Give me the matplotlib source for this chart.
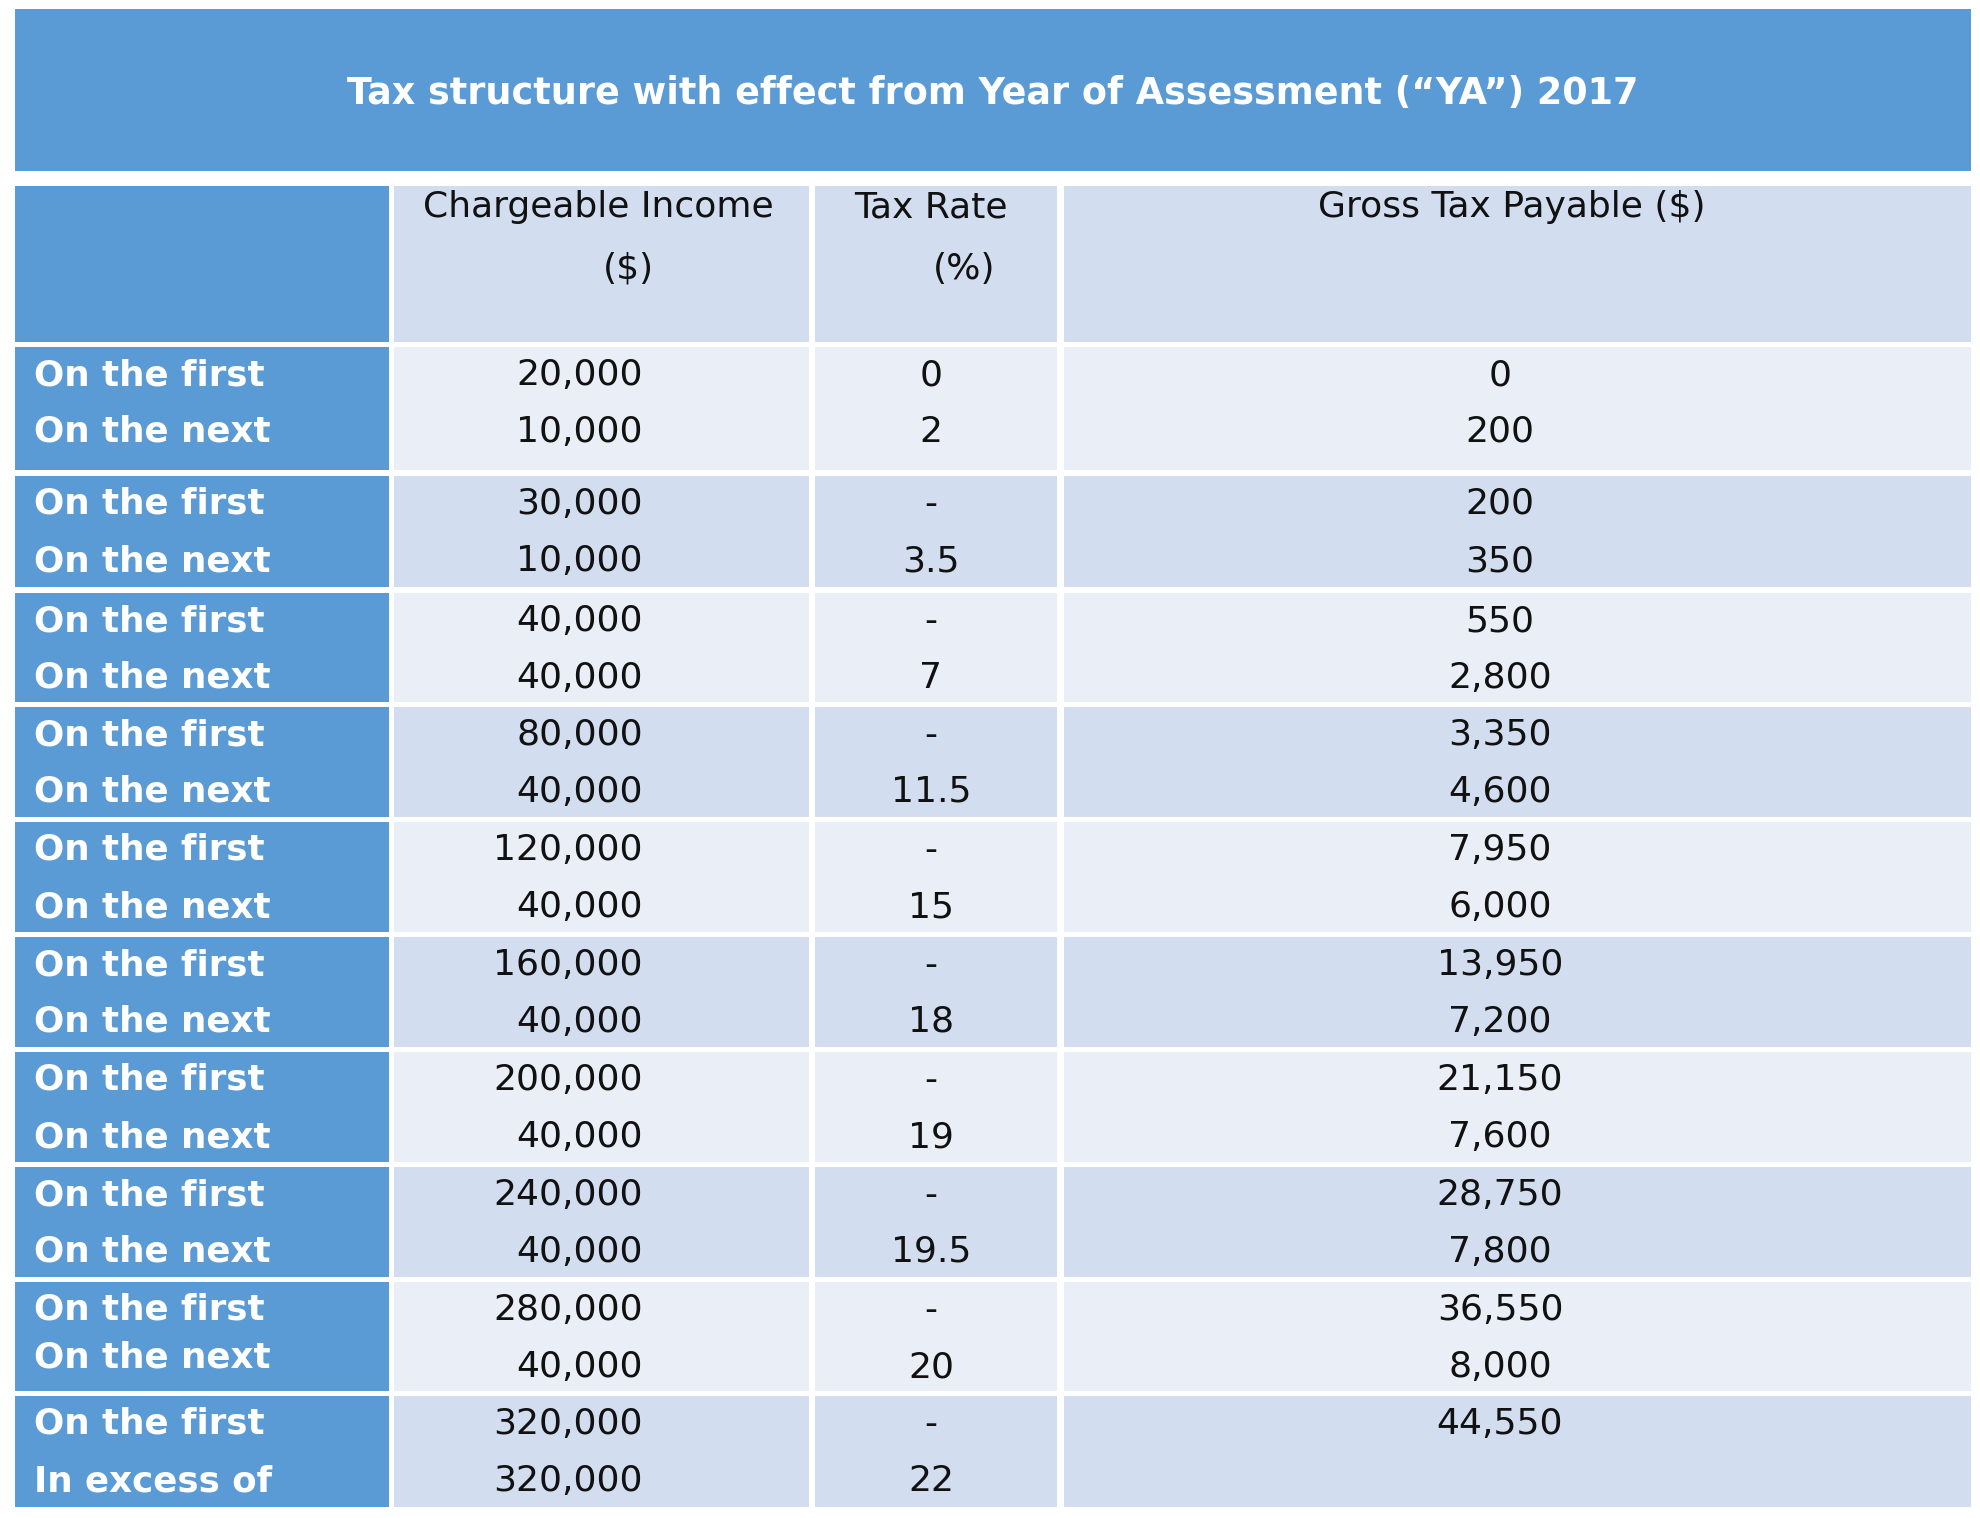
import matplotlib
matplotlib.use("Agg")
import matplotlib.pyplot as plt
from matplotlib.patches import Rectangle

title = "Tax structure with effect from Year of Assessment (\u201cYA\u201d) 2017"
header_income = ["Chargeable Income", "($)"]
header_rate = ["Tax Rate", "(%)"]
header_gross = "Gross Tax Payable ($)"

labels = [("On the first", "On the next")] * 9 + [("On the first", "In excess of")]
income = [("20,000", "10,000"), ("30,000", "10,000"), ("40,000", "40,000"),
          ("80,000", "40,000"), ("120,000", "40,000"), ("160,000", "40,000"),
          ("200,000", "40,000"), ("240,000", "40,000"), ("280,000", "40,000"),
          ("320,000", "320,000")]
rate = [("0", "2"), ("-", "3.5"), ("-", "7"), ("-", "11.5"), ("-", "15"),
        ("-", "18"), ("-", "19"), ("-", "19.5"), ("-", "20"), ("-", "22")]
gross = [("0", "200"), ("200", "350"), ("550", "2,800"), ("3,350", "4,600"),
         ("7,950", "6,000"), ("13,950", "7,200"), ("21,150", "7,600"),
         ("28,750", "7,800"), ("36,550", "8,000"), ("44,550", "")]

W, H = 1981, 1518
fig = plt.figure(figsize=(W / 100, H / 100), dpi=100)
ax = fig.add_axes([0, 0, 1, 1])
ax.set_xlim(0, W)
ax.set_ylim(H, 0)
ax.axis("off")

BLUE = "#5B9BD5"
DARK = "#D2DEEF"
LIGHT = "#EAEFF7"
FS = 26
FSB = 25.7
FONT = "DejaVu Sans"
TXT = "#111111"

# columns (x0, x1)
cols = [(15, 389), (394, 809), (815, 1057), (1064, 1971)]

def rect(x0, y0, x1, y1, c):
    ax.add_patch(Rectangle((x0, y0), x1 - x0, y1 - y0, facecolor=c, edgecolor="none"))

# title band
rect(15, 9, 1971, 171, BLUE)
ax.text(993, 93, title, ha="center", va="center", color="white",
        fontsize=26.3, fontweight="bold", family=FONT)

# header row
hy0, hy1 = 186, 342
rect(cols[0][0], hy0, cols[0][1], hy1, BLUE)
for c in cols[1:]:
    rect(c[0], hy0, c[1], hy1, DARK)
ax.text(598, 207, header_income[0], ha="center", va="center", fontsize=FS, family=FONT, color=TXT)
ax.text(628, 269, header_income[1], ha="center", va="center", fontsize=FS, family=FONT, color=TXT)
ax.text(931, 207, header_rate[0], ha="center", va="center", fontsize=FS, family=FONT, color=TXT)
ax.text(964, 269, header_rate[1], ha="center", va="center", fontsize=FS, family=FONT, color=TXT)
ax.text(1512, 207, header_gross, ha="center", va="center", fontsize=FS, family=FONT, color=TXT)

# groups (y0, y1)
groups = [(347, 470), (476, 587), (593, 702), (707, 817), (822, 932),
          (937, 1047), (1052, 1162), (1167, 1277), (1282, 1391), (1396, 1507)]

for i, (y0, y1) in enumerate(groups):
    bg = LIGHT if i % 2 == 0 else DARK
    rect(cols[0][0], y0, cols[0][1], y1, BLUE)
    for c in cols[1:]:
        rect(c[0], y0, c[1], y1, bg)
    ya = y0 + 28
    yb = y0 + 85
    yb_label = y0 + 76 if i == 8 else yb
    ax.text(34, ya, labels[i][0], ha="left", va="center", color="white",
            fontsize=FSB, fontweight="bold", family=FONT)
    ax.text(34, yb_label, labels[i][1], ha="left", va="center", color="white",
            fontsize=FSB, fontweight="bold", family=FONT)
    ax.text(643, ya, income[i][0], ha="right", va="center", fontsize=FS, family=FONT, color=TXT)
    ax.text(643, yb, income[i][1], ha="right", va="center", fontsize=FS, family=FONT, color=TXT)
    ax.text(931, ya, rate[i][0], ha="center", va="center", fontsize=FS, family=FONT, color=TXT)
    ax.text(931, yb, rate[i][1], ha="center", va="center", fontsize=FS, family=FONT, color=TXT)
    ax.text(1500, ya, gross[i][0], ha="center", va="center", fontsize=FS, family=FONT, color=TXT)
    if gross[i][1]:
        ax.text(1500, yb, gross[i][1], ha="center", va="center", fontsize=FS, family=FONT, color=TXT)

fig.savefig("out.png", dpi=100, facecolor="white")
